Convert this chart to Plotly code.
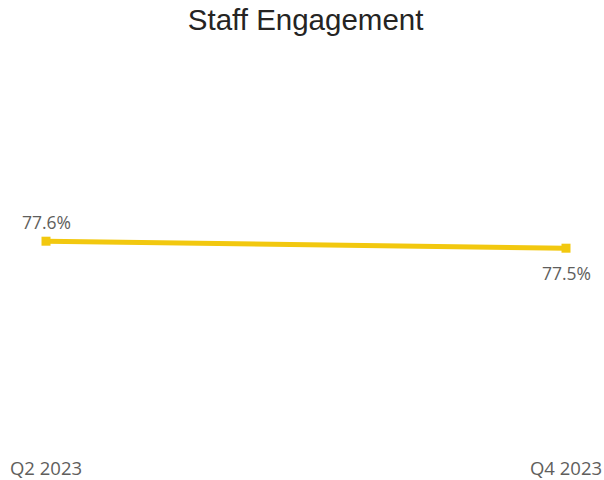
import plotly.graph_objects as go

quarters = ["Q2 2023", "Q4 2023"]
engagement = [77.6, 77.5]
label_shifts = [19, -25]

labels = [f"{v:.1f}%" for v in engagement]

fig = go.Figure()
fig.add_trace(go.Scatter(
    x=quarters, y=engagement,
    mode="lines+markers",
    line=dict(color="#F2C80F", width=5),
    marker=dict(color="#F2C80F", size=9, symbol="square"),
    cliponaxis=False,
    hoverinfo="skip",
))

for q, v, t, s in zip(quarters, engagement, labels, label_shifts):
    fig.add_annotation(x=q, y=v, text=t, showarrow=False, yshift=s,
                       xanchor="center", yanchor="middle",
                       font=dict(family="Open Sans, sans-serif", size=17.5, color="#605E5C"))

fig.update_layout(
    width=604, height=480,
    paper_bgcolor="white", plot_bgcolor="white",
    margin=dict(l=46, r=38, t=50, b=35),
    showlegend=False,
    title=dict(text="Staff Engagement", x=0.506, xanchor="center", y=0.958, yanchor="middle",
               font=dict(family="Liberation Sans, Arial, sans-serif", size=29.5, color="#252423")),
    xaxis=dict(type="category", range=[0, 1], showgrid=False, zeroline=False, showline=False,
               tickfont=dict(family="Open Sans, sans-serif", size=18.5, color="#605E5C"),
               ticks="", ticklabelstandoff=10, automargin=False),
    yaxis=dict(range=[74.69, 80.33], visible=False, automargin=False),
)

fig.write_html("out.html")
